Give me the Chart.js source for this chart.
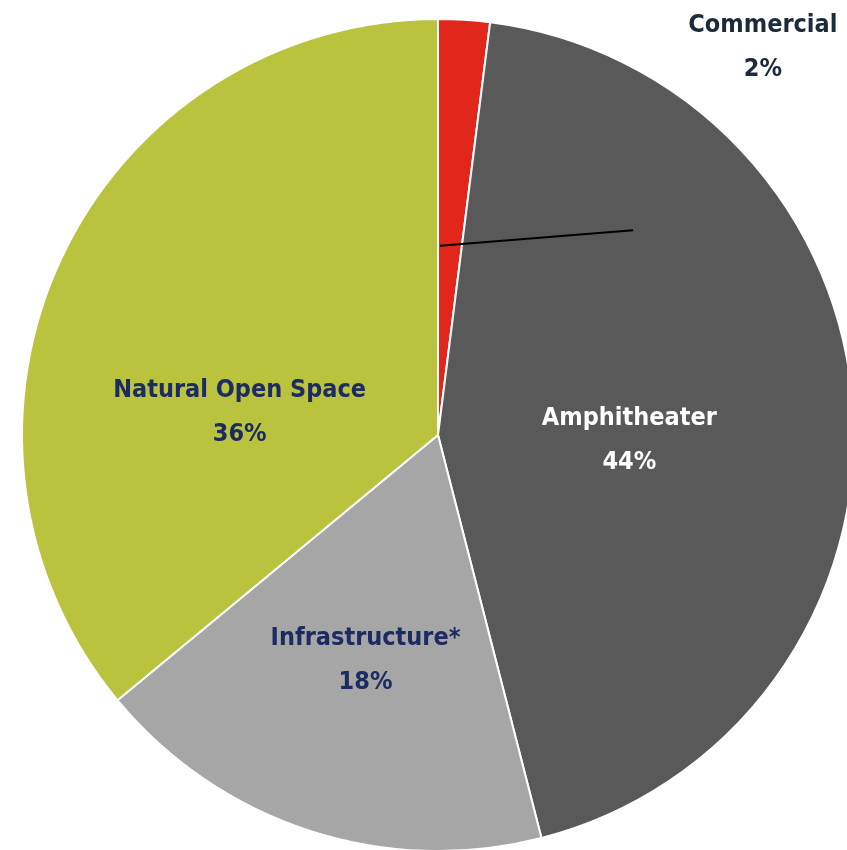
<!DOCTYPE html>
<html>
<head>
<meta charset="utf-8">
<script src="https://cdn.jsdelivr.net/npm/chart.js@4.4.0/dist/chart.umd.min.js"></script>
<style>
  html, body { margin: 0; padding: 0; background: #fff; overflow: hidden; }
  #grafico { width: 880px; height: 880px; }
</style>
</head>
<body>
<div id="grafico"><canvas id="pizza_uso_area" width="880" height="880"></canvas></div>
<script>
/* Pizza com a divisão da área do projeto por uso */
const categorias = ['Commercial', 'Amphitheater', 'Infrastructure*', 'Natural Open Space'];
const percentuais = [2, 44, 18, 36];
const cores = ['#e1261c', '#595959', '#a6a6a6', '#b9c33d'];
const coresTexto = ['#1c2a3a', '#ffffff', '#1d2b63', '#1d2b63'];

// escreve nome + % de cada fatia; ang em graus a partir do topo (horário), dist em fração do raio
const rotulosPlugin = {
    id: 'rotulos',
    afterDatasetsDraw(chart, args, opts) {
        const ctx = chart.ctx;
        const meta = chart.getDatasetMeta(0);
        const arco = meta.data[0];
        const cx = arco.x, cy = arco.y, r = arco.outerRadius;
        const ponto = (ang, dist) => {
            const a = (ang - 90) * Math.PI / 180;
            return [cx + Math.cos(a) * dist * r, cy + Math.sin(a) * dist * r];
        };

        // linha de chamada
        const l = opts.linha;
        const p1 = ponto(l.de[0], l.de[1]);
        const p2 = ponto(l.ate[0], l.ate[1]);
        ctx.save();
        ctx.strokeStyle = '#000';
        ctx.lineWidth = 2;
        ctx.beginPath();
        ctx.moveTo(p1[0], p1[1]);
        ctx.lineTo(p2[0], p2[1]);
        ctx.stroke();

        ctx.font = opts.fonte;
        ctx.textAlign = 'center';
        ctx.textBaseline = 'middle';
        meta.data.forEach(function (el, i) {
            const pos = opts.posicoes[i];
            const p = ponto(pos.ang, pos.dist);
            ctx.fillStyle = coresTexto[i];
            ctx.fillText(chart.data.labels[i], p[0], p[1] - 22);
            ctx.fillText(chart.data.datasets[0].data[i] + '%', p[0], p[1] + 22);
        });
        ctx.restore();
    }
};

const dadosPizza = {
    labels: categorias,
    datasets: [{
        label: 'Uso da área',
        data: percentuais,
        backgroundColor: cores,
        borderColor: '#ffffff',
        borderWidth: 2,
        hoverOffset: 0
    }]
};

const configPizza = {
    type: 'pie',
    data: dadosPizza,
    options: {
        responsive: false,
        animation: false,
        layout: { padding: { left: 21, top: 18, right: 25, bottom: 28 } },
        plugins: {
            legend: { display: false },
            tooltip: { enabled: false },
            rotulos: {
                fonte: 'bold 25px "DejaVu Sans Condensed", sans-serif',
                posicoes: [
                    { ang: 40.0, dist: 1.215 },
                    { ang: 91.5, dist: 0.46 },
                    { ang: 197.8, dist: 0.57 },
                    { ang: 276.6, dist: 0.48 }
                ],
                linha: { de: [0.6, 0.455], ate: [43.6, 0.68] }
            }
        }
    },
    plugins: [rotulosPlugin]
};

const graficoPizza = new Chart(document.getElementById('pizza_uso_area'), configPizza);
</script>
</body>
</html>
